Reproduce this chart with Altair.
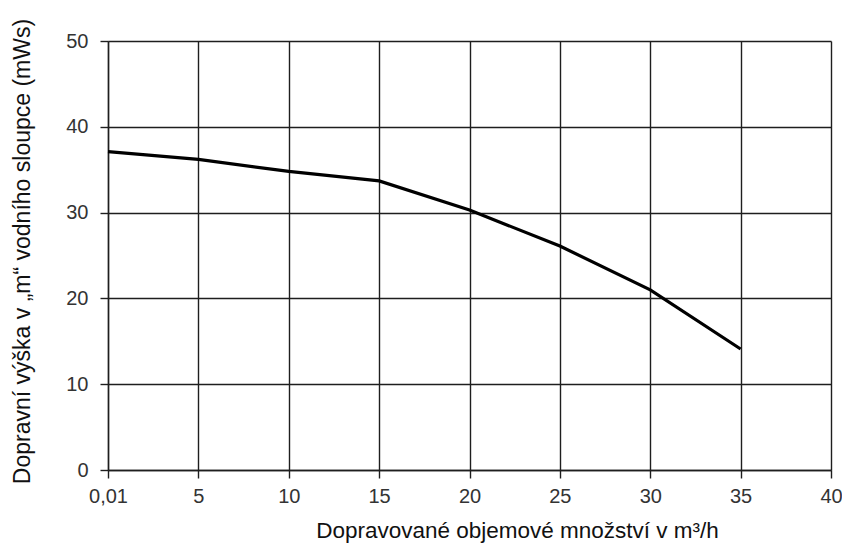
import altair as alt
import pandas as pd

flow = [0, 5, 10, 15, 20, 25, 30, 35]
head = [37.1, 36.2, 34.8, 33.7, 30.3, 26.1, 21.0, 14.1]
x_ticks = [0, 5, 10, 15, 20, 25, 30, 35, 40]
y_ticks = [0, 10, 20, 30, 40, 50]

df = pd.DataFrame({"flow": flow, "head": head})

FONT = "Liberation Sans"

chart = alt.Chart(df).mark_line(color="#000000", strokeWidth=3.2).encode(
    x=alt.X("flow:Q",
            scale=alt.Scale(domain=[0, 40], nice=False),
            axis=alt.Axis(values=x_ticks,
                          labelExpr="datum.value == 0 ? '0,01' : datum.label",
                          labelFlush=False,
                          labelPadding=8,
                          title="Dopravované objemové množství v m³/h",
                          titleFontSize=22.5,
                          titleX=409, titleY=67, titleAnchor="middle",
                          titleBaseline="alphabetic")),
    y=alt.Y("head:Q",
            scale=alt.Scale(domain=[0, 50], nice=False),
            axis=alt.Axis(values=y_ticks,
                          labelPadding=12,
                          title="Dopravní výška v „m“ vodního sloupce (mWs)",
                          titleFontSize=23,
                          titleX=-86, titleY=210, titleAngle=-90,
                          titleBaseline="middle", titleAlign="center")),
).properties(
    width=723, height=429,
    autosize=alt.AutoSizeParams(type="none"),
    padding={"left": 100, "top": 33, "right": 11, "bottom": 76},
).configure_view(
    stroke=None
).configure_axis(
    grid=True,
    gridColor="#1e1e1e",
    gridWidth=1.4,
    gridOpacity=1,
    domainColor="#1e1e1e",
    domainWidth=1.4,
    tickColor="#1e1e1e",
    tickWidth=1.4,
    tickSize=8,
    labelFont=FONT,
    labelFontSize=20,
    labelColor="#333333",
    titleFont=FONT,
    titleFontWeight="normal",
    titleColor="#111111",
)

chart.save("out.html", embed_options={"renderer": "svg", "actions": False})
